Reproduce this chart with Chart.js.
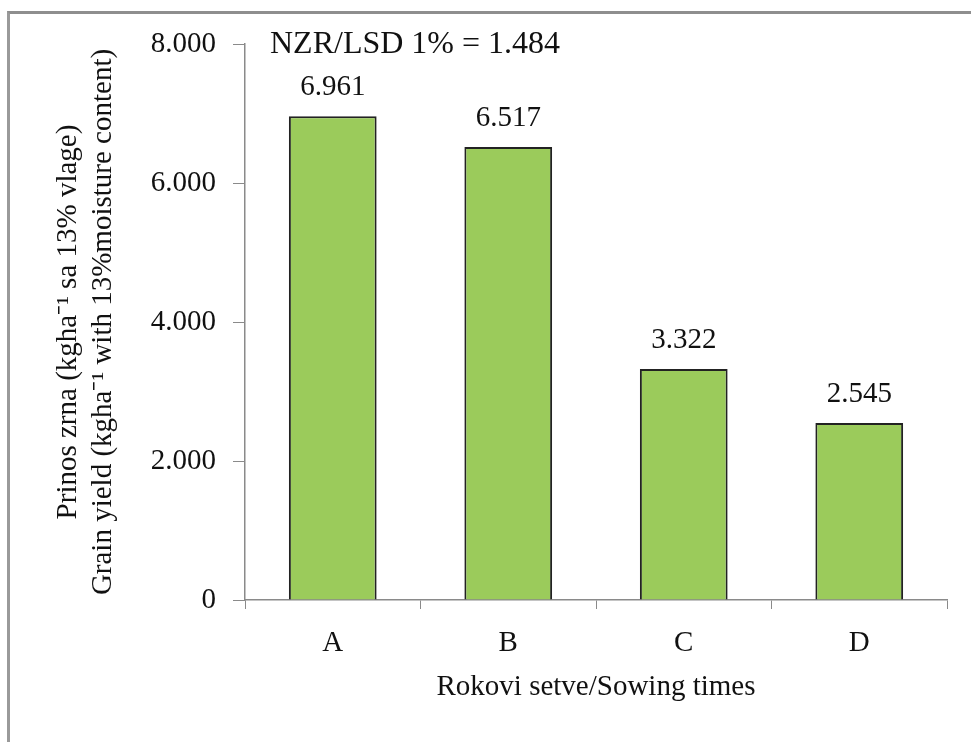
<!DOCTYPE html>
<html>
<head>
<meta charset="utf-8">
<script src="https://cdn.jsdelivr.net/npm/chart.js@4/dist/chart.umd.min.js"></script>
<style>
  html, body { margin: 0; padding: 0; background: #fff; }
  #wrap { position: relative; width: 971px; height: 742px; overflow: hidden; }
  #frame { position: absolute; left: 7px; top: 11px; width: 980px; height: 800px;
           border-top: 3px solid #8e8e8e; border-left: 3px solid #9a9a9a; box-sizing: border-box; }
  canvas { position: absolute; left: 0; top: 0; }
</style>
</head>
<body>
<div id="wrap">
  <div id="frame"></div>
  <canvas id="c" width="971" height="742"></canvas>
</div>
<script>
const categories = ['A', 'B', 'C', 'D'];
const yieldValues = [6961, 6517, 3322, 2545];
const yTicks = [0, 2000, 4000, 6000, 8000];
const lsdText = 'NZR/LSD 1% = 1.484';
const yTitle = ['Prinos zrna (kgha\u207B\u00B9 sa 13% vlage)', 'Grain yield (kgha\u207B\u00B9 with 13%moisture content)'];
const xTitle = 'Rokovi setve/Sowing times';

const FONT = '"Liberation Serif", "Times New Roman", serif';

function fmt(v) {
  return String(Math.round(v)).replace(/\B(?=(\d{3})+(?!\d))/g, '.');
}

const labelPlugin = {
  id: 'labels',
  afterDatasetsDraw(chart) {
    const ctx = chart.ctx;
    const meta = chart.getDatasetMeta(0);
    ctx.save();
    ctx.fillStyle = '#111';
    ctx.font = '29px ' + FONT;
    ctx.textAlign = 'center';
    ctx.textBaseline = 'bottom';
    meta.data.forEach((bar, i) => {
      ctx.fillText(fmt(yieldValues[i]), bar.x, bar.y - 14);
    });
    ctx.font = '32px ' + FONT;
    ctx.textAlign = 'left';
    ctx.textBaseline = 'middle';
    ctx.fillText(lsdText, chart.chartArea.left + 25, chart.chartArea.top + 1);
    ctx.restore();
  }
};

new Chart(document.getElementById('c'), {
  type: 'bar',
  data: {
    labels: categories,
    datasets: [{
      data: yieldValues,
      backgroundColor: '#9BCB5B',
      borderColor: '#222',
      borderWidth: 2,
      categoryPercentage: 1,
      barPercentage: 0.5
    }]
  },
  options: {
    responsive: false,
    animation: false,
    layout: { padding: { top: 44, right: 24, left: 0, bottom: 0 } },
    plugins: { legend: { display: false }, tooltip: { enabled: false } },
    scales: {
      x: {
        offset: true,
        grid: { offset: true, drawOnChartArea: false, drawTicks: true, tickLength: 9, color: '#8a8a8a' },
        border: { color: '#8a8a8a', width: 1.5 },
        ticks: { color: '#111', font: { family: FONT, size: 29 }, padding: 17 },
        title: { display: true, text: xTitle, color: '#111', font: { family: FONT, size: 29 }, padding: { top: 0, bottom: 37 } },
        afterFit(scale) { scale.height = 142; }
      },
      y: {
        min: 0, max: 8000,
        afterBuildTicks(scale) { scale.ticks = yTicks.map(v => ({ value: v })); },
        grid: { drawOnChartArea: false, drawTicks: true, tickLength: 12, color: '#8a8a8a' },
        border: { color: '#8a8a8a', width: 1.5 },
        ticks: { color: '#111', font: { family: FONT, size: 29 }, padding: 17, callback: v => fmt(v) },
        title: { display: true, text: yTitle, color: '#111', font: { family: FONT, size: 29, lineHeight: 1.2 }, padding: { top: 51, bottom: 0 } },
        afterFit(scale) { scale.width = 245; }
      }
    }
  },
  plugins: [labelPlugin]
});
</script>
</body>
</html>
